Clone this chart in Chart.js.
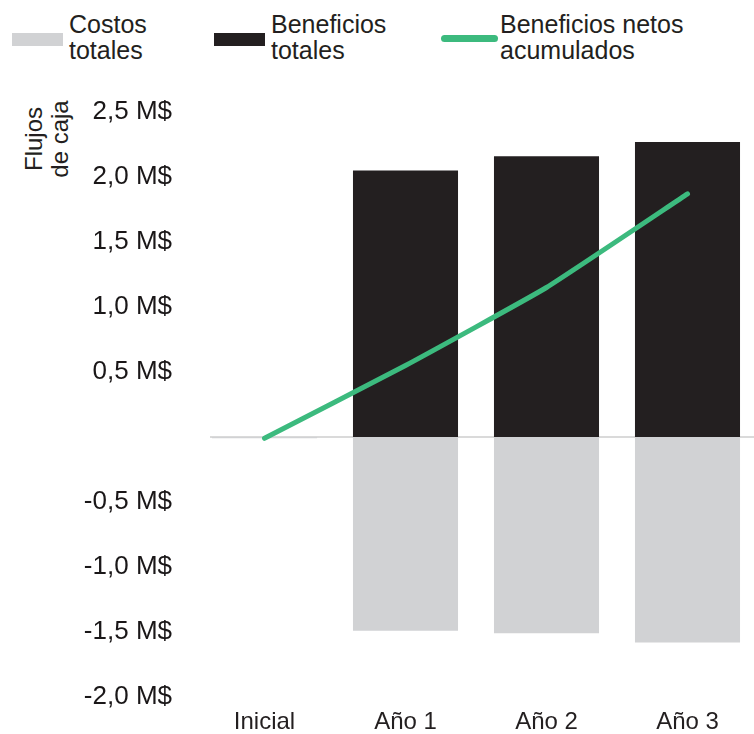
<!DOCTYPE html>
<html lang="es">
<head>
<meta charset="utf-8">
<title>Flujos de caja</title>
<script src="https://cdn.jsdelivr.net/npm/chart.js@4/dist/chart.umd.min.js"></script>
<style>
	html, body { margin: 0; padding: 0; background: #fff; overflow: hidden; }
	body { width: 754px; height: 734px; position: relative; font-family: "Liberation Sans", Arial, sans-serif; color: #231f20; }
	#wrap { position: absolute; left: 0; top: 0; width: 760px; height: 734px; }
	.legend-item { position: absolute; top: 11px; font-size: 25px; line-height: 26px; }
	.swatch { position: absolute; }
	#yTitle { position: absolute; left: -3px; top: 113px; width: 100px; height: 52px; font-size: 24px; line-height: 26px; text-align: center; transform: rotate(-90deg); }
</style>
</head>
<body>
<div id="legend"></div>
<div id="yTitle">Flujos<br>de caja</div>
<div id="wrap"><canvas id="cashChart"></canvas></div>
<script>
// values in millions of dollars
const categories = ['Inicial', 'Año 1', 'Año 2', 'Año 3'];
const costosTotales = [-0.01, -1.49, -1.51, -1.58];
const beneficiosTotales = [0, 2.05, 2.16, 2.27];
const beneficiosNetos = [-0.01, 0.55, 1.15, 1.87];
// no label at zero in the original
const yTicks = [2.5, 2.0, 1.5, 1.0, 0.5, -0.5, -1.0, -1.5, -2.0];

const GRAY = '#d1d2d4';
const BLACK = '#231f20';
const GREEN = '#3cba7e';

// zero line, starts a bit right of the plot edge like the original
const zeroLine = {
	id: 'zeroLine',
	beforeDatasetsDraw(chart) {
		const y = chart.scales.y.getPixelForValue(0);
		const ctx = chart.ctx;
		ctx.save();
		ctx.strokeStyle = '#dadada';
		ctx.lineWidth = 2;
		ctx.beginPath();
		ctx.moveTo(210, y);
		ctx.lineTo(chart.width, y);
		ctx.stroke();
		ctx.restore();
	}
};

const chart = new Chart(document.getElementById('cashChart').getContext('2d'), {
	type: 'bar',
	data: {
		labels: categories,
		datasets: [
			{
				type: 'line',
				label: ['Beneficios netos', 'acumulados'],
				data: beneficiosNetos,
				borderColor: GREEN,
				backgroundColor: GREEN,
				borderWidth: 5,
				borderCapStyle: 'round',
				borderJoinStyle: 'round',
				pointRadius: 0,
				tension: 0.12,
				fill: false,
				stack: 'net',
				order: 0
			},
			{
				label: ['Costos', 'totales'],
				data: costosTotales,
				backgroundColor: GRAY,
				stack: 'flow',
				order: 1
			},
			{
				label: ['Beneficios', 'totales'],
				data: beneficiosTotales,
				backgroundColor: BLACK,
				stack: 'flow',
				order: 2
			}
		]
	},
	options: {
		responsive: true,
		maintainAspectRatio: false,
		animation: false,
		layout: { padding: { top: 112, right: 2, bottom: 0, left: 0 } },
		datasets: {
			bar: { categoryPercentage: 1, barPercentage: 0.745 }
		},
		scales: {
			x: {
				stacked: true,
				grid: { display: false },
				border: { display: false },
				ticks: { color: BLACK, padding: 3, font: { family: 'Liberation Sans', size: 24 } },
				afterFit(scale) { scale.height = 37; }
			},
			y: {
				stacked: true,
				min: -2.0,
				max: 2.5,
				grid: { display: false },
				border: { display: false },
				afterBuildTicks(scale) { scale.ticks = yTicks.map(v => ({ value: v })); },
				afterFit(scale) { scale.width = 194; },
				ticks: {
					color: '#1a1718',
					padding: 14,
					font: { family: 'Liberation Sans', size: 26 },
					callback: v => v.toFixed(1).replace('.', ',') + ' M$'
				}
			}
		},
		plugins: {
			legend: { display: false },
			tooltip: { enabled: false }
		}
	},
	plugins: [zeroLine]
});

// legend in html so the labels can wrap on two lines
const legendPos = [
	{ dataset: 1, swatchLeft: 12, swatchWidth: 51, textLeft: 69 },
	{ dataset: 2, swatchLeft: 214, swatchWidth: 51, textLeft: 271 },
	{ dataset: 0, swatchLeft: 441, swatchWidth: 57, textLeft: 500 }
];
const legendEl = document.getElementById('legend');
legendPos.forEach(p => {
	const ds = chart.data.datasets[p.dataset];
	const sw = document.createElement('div');
	sw.className = 'swatch';
	sw.style.left = p.swatchLeft + 'px';
	sw.style.width = p.swatchWidth + 'px';
	if (ds.type === 'line') {
		sw.style.top = '35px';
		sw.style.height = '7px';
		sw.style.borderRadius = '3.5px';
		sw.style.background = ds.borderColor;
	} else {
		sw.style.top = '33px';
		sw.style.height = '13px';
		sw.style.background = ds.backgroundColor;
	}
	legendEl.appendChild(sw);
	const txt = document.createElement('div');
	txt.className = 'legend-item';
	txt.style.left = p.textLeft + 'px';
	txt.innerHTML = ds.label.join('<br>');
	legendEl.appendChild(txt);
});
</script>
</body>
</html>
